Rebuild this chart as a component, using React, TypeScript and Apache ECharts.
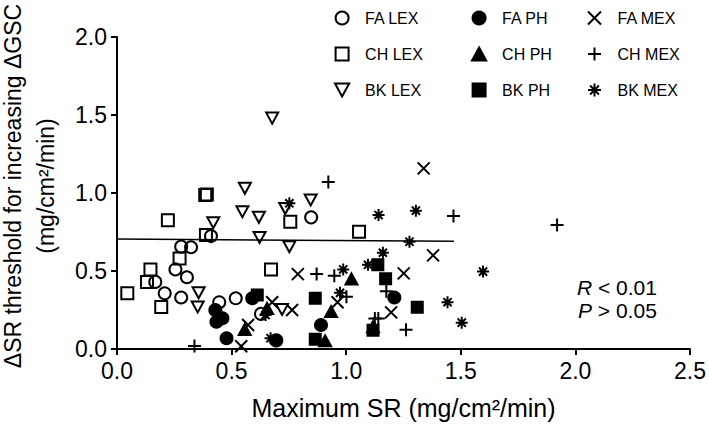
import React, { useEffect, useRef } from "react";
import * as echarts from "echarts";

const FONT = '"Liberation Sans", Arial, Helvetica, sans-serif';

// Data: [Maximum SR, ΔSR threshold]
const FA_LEX = [[0.167,0.43],[0.208,0.357],[0.255,0.51],[0.305,0.46],[0.28,0.33],[0.28,0.656],[0.323,0.652],[0.41,0.724],[0.446,0.30],[0.518,0.325],[0.628,0.225],[0.847,0.844]];
const FA_PH = [[0.429,0.25],[0.46,0.197],[0.434,0.175],[0.478,0.069],[0.59,0.325],[0.695,0.055],[0.89,0.154],[1.21,0.33]];
const FA_MEX = [[0.542,0.018],[0.572,0.154],[0.677,0.30],[0.764,0.25],[0.789,0.48],[0.962,0.30],[1.196,0.235],[1.251,0.485],[1.379,0.60],[1.338,1.158]];
const CH_LEX = [[0.045,0.357],[0.146,0.51],[0.131,0.43],[0.193,0.27],[0.273,0.58],[0.222,0.825],[0.385,0.987],[0.392,0.99],[0.388,0.73],[0.672,0.51],[0.756,0.816],[1.056,0.752]];
const CH_PH = [[0.557,0.125],[0.655,0.26],[0.934,0.24],[0.908,0.053],[1.023,0.449],[1.117,0.143]];
const CH_MEX = [[0.338,0.02],[0.871,0.48],[0.948,0.47],[1.001,0.335],[1.175,0.37],[1.125,0.195],[1.14,0.195],[1.261,0.124],[0.922,1.07],[1.468,0.853],[1.92,0.795]];
const BK_LEX = [[0.677,1.48],[0.558,1.03],[0.547,0.88],[0.619,0.844],[0.42,0.81],[0.734,0.9],[0.845,0.955],[0.622,0.715],[0.752,0.656],[0.356,0.36],[0.352,0.27],[0.72,0.254]];
const BK_PH = [[0.612,0.346],[0.865,0.325],[0.865,0.062],[1.138,0.54],[1.172,0.45],[1.117,0.12],[1.31,0.268]];
const BK_MEX = [[0.648,0.218],[0.67,0.069],[0.752,0.934],[0.987,0.51],[0.973,0.36],[1.16,0.617],[1.095,0.54],[1.597,0.496],[1.442,0.30],[1.504,0.169],[1.141,0.859],[1.304,0.887],[1.276,0.688]];
const FIT_LINE = [[0, 0.705], [1.47, 0.69]];

const X_TICKS = [0, 0.5, 1.0, 1.5, 2.0, 2.5];
const Y_TICKS = [0, 0.5, 1.0, 1.5, 2.0];

const SYM_X = "path://M0,0L10,10M10,0L0,10";
const SYM_PLUS = "path://M5,0L5,10M0,5L10,5";
const SYM_AST = "path://M5,0L5,10M0,5L10,5M1.6,1.6L8.4,8.4M8.4,1.6L1.6,8.4";
const SYM_TRI_DOWN = "path://M0,0L12,0L6,11Z";
const SYM_TRI_UP = "path://M6,0L12,11L0,11Z";
const SYM_RECT = "path://M0,0L10,0L10,10L0,10Z";

const CLEAR = "rgba(0,0,0,0)";

const seriesDefs = [
  { name: "FA LEX", data: FA_LEX, symbol: "circle", size: 12, fill: CLEAR },
  { name: "CH LEX", data: CH_LEX, symbol: SYM_RECT, size: 12, fill: CLEAR },
  { name: "BK LEX", data: BK_LEX, symbol: SYM_TRI_DOWN, size: 12, fill: CLEAR },
  { name: "FA PH", data: FA_PH, symbol: "circle", size: 12, fill: "#000" },
  { name: "CH PH", data: CH_PH, symbol: SYM_TRI_UP, size: 12, fill: "#000" },
  { name: "BK PH", data: BK_PH, symbol: SYM_RECT, size: 11, fill: "#000" },
  { name: "FA MEX", data: FA_MEX, symbol: SYM_X, size: 12, fill: CLEAR },
  { name: "CH MEX", data: CH_MEX, symbol: SYM_PLUS, size: 13, fill: CLEAR },
  { name: "BK MEX", data: BK_MEX, symbol: SYM_AST, size: 12, fill: CLEAR },
];

export default function App() {
  const ref = useRef<HTMLDivElement>(null);
  useEffect(() => {
    if (!ref.current) return;
    const chart = echarts.init(ref.current, null, { renderer: "svg" });
    const legendBase = {
      orient: "vertical",
      top: 8,
      itemWidth: 36,
      itemHeight: 13,
      itemGap: 16,
      padding: 0,
      symbolKeepAspect: true,
      textStyle: { fontSize: 16, fontFamily: FONT, color: "#000", lineHeight: 20 },
      selectedMode: false,
    };
    const option: any = {
      animation: false,
      backgroundColor: "#fff",
      grid: { left: 117, right: 15, top: 37, bottom: 79, containLabel: false },
      xAxis: {
        type: "value",
        min: X_TICKS[0],
        max: X_TICKS[X_TICKS.length - 1],
        interval: 0.5,
        name: "Maximum SR (mg/cm²/min)",
        nameLocation: "middle",
        nameGap: 46,
        nameTextStyle: { fontSize: 25, fontFamily: FONT, color: "#000" },
        axisLine: { lineStyle: { color: "#000", width: 2 } },
        axisTick: { show: true, inside: false, length: 6, lineStyle: { color: "#000", width: 2 } },
        axisLabel: { fontSize: 23, fontFamily: FONT, color: "#000", margin: 10, formatter: (v: number) => v.toFixed(1) },
        splitLine: { show: false },
      },
      yAxis: {
        type: "value",
        min: Y_TICKS[0],
        max: Y_TICKS[Y_TICKS.length - 1],
        interval: 0.5,
        axisLine: { show: true, lineStyle: { color: "#000", width: 2 } },
        axisTick: { show: true, inside: false, length: 6, lineStyle: { color: "#000", width: 2 } },
        axisLabel: { fontSize: 23, fontFamily: FONT, color: "#000", margin: 10, formatter: (v: number) => v.toFixed(1) },
        splitLine: { show: false },
      },
      legend: [
        { ...legendBase, left: 334, data: ["FA LEX", "CH LEX", "BK LEX"] },
        { ...legendBase, left: 471, data: ["FA PH", "CH PH", "BK PH"] },
        { ...legendBase, left: 587, data: ["FA MEX", "CH MEX", "BK MEX"] },
      ],
      series: [
        {
          name: "fit",
          type: "line",
          data: FIT_LINE,
          symbol: "none",
          lineStyle: { color: "#000", width: 1.5 },
          silent: true,
          z: 1,
        },
        ...seriesDefs.map((s) => ({
          name: s.name,
          type: "scatter",
          data: s.data,
          symbol: s.symbol,
          symbolSize: s.size,
          symbolKeepAspect: true,
          itemStyle: { color: s.fill, borderColor: "#000", borderWidth: 2, opacity: 1 },
          z: 3,
        })),
      ],
      graphic: [
        {
          type: "text",
          x: 13,
          y: 186,
          rotation: Math.PI / 2,
          style: {
            text: "ΔSR threshold for increasing ΔGSC",
            fontSize: 23,
            fontFamily: FONT,
            fill: "#000",
            align: "center",
            verticalAlign: "middle",
            textAlign: "center",
            textVerticalAlign: "middle",
          },
        },
        {
          type: "text",
          x: 46,
          y: 186,
          rotation: Math.PI / 2,
          style: {
            text: "(mg/cm²/min)",
            fontSize: 23,
            fontFamily: FONT,
            fill: "#000",
            align: "center",
            verticalAlign: "middle",
            textAlign: "center",
            textVerticalAlign: "middle",
          },
        },
        {
          type: "text",
          x: 577,
          y: 287,
          style: {
            text: "{i|R} < 0.01",
            fontSize: 21,
            fontFamily: FONT,
            fill: "#000",
            verticalAlign: "middle",
            textVerticalAlign: "middle",
            rich: { i: { fontStyle: "italic", fontSize: 21, fontFamily: FONT, fill: "#000" } },
          },
        },
        {
          type: "text",
          x: 578,
          y: 310,
          style: {
            text: "{i|P} > 0.05",
            fontSize: 21,
            fontFamily: FONT,
            fill: "#000",
            verticalAlign: "middle",
            textVerticalAlign: "middle",
            rich: { i: { fontStyle: "italic", fontSize: 21, fontFamily: FONT, fill: "#000" } },
          },
        },
      ],
    };
    chart.setOption(option);
    return () => chart.dispose();
  }, []);
  return <div ref={ref} style={{ width: 709, height: 428, position: "absolute", left: 0, top: 0 }} />;
}
